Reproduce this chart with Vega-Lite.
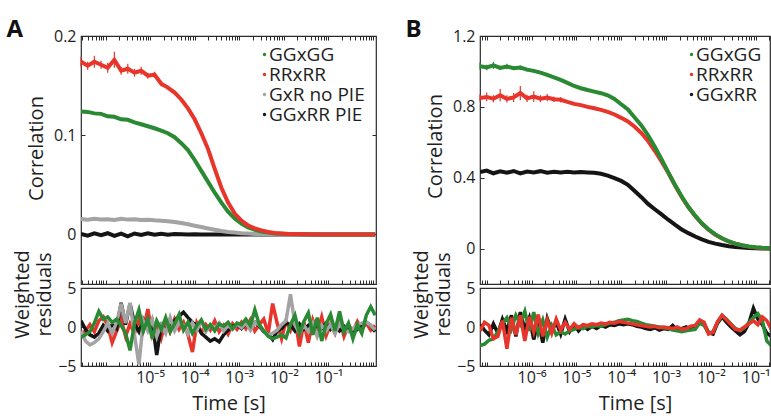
{
"$schema": "https://vega.github.io/schema/vega-lite/v6.json",
"background": "white",
"padding": {"left": 6, "top": 18, "right": 0, "bottom": 0},
"spacing": 27,
"resolve": {"scale": {"color": "independent"}, "legend": {"color": "independent"}},
"datasets": {
"corrA": [
{"s":"GGxRR PIE","t":2.82e-7,"v":0.0005},{"s":"GGxRR PIE","t":3.98e-7,"v":-0.0012},{"s":"GGxRR PIE","t":5.62e-7,"v":0.001},{"s":"GGxRR PIE","t":7.94e-7,"v":-0.0008},{"s":"GGxRR PIE","t":1.12e-6,"v":0.0012},{"s":"GGxRR PIE","t":1.58e-6,"v":-0.0015},{"s":"GGxRR PIE","t":2.24e-6,"v":0.0007},{"s":"GGxRR PIE","t":3.16e-6,"v":-0.002},{"s":"GGxRR PIE","t":4.47e-6,"v":0.0009},{"s":"GGxRR PIE","t":6.31e-6,"v":-0.0006},{"s":"GGxRR PIE","t":8.91e-6,"v":0.0011},{"s":"GGxRR PIE","t":1.26e-5,"v":-0.0004},{"s":"GGxRR PIE","t":1.78e-5,"v":0.0006},{"s":"GGxRR PIE","t":2.51e-5,"v":-0.0003},{"s":"GGxRR PIE","t":3.55e-5,"v":0.0004},{"s":"GGxRR PIE","t":5.01e-5,"v":0.0002},{"s":"GGxRR PIE","t":7.08e-5,"v":-0.0002},{"s":"GGxRR PIE","t":1e-4,"v":0.0001},{"s":"GGxRR PIE","t":1.41e-4,"v":0},{"s":"GGxRR PIE","t":5.62e-4,"v":0},{"s":"GGxRR PIE","t":2.24e-3,"v":0},{"s":"GGxRR PIE","t":8.91e-3,"v":0},{"s":"GGxRR PIE","t":5.01e-2,"v":0},{"s":"GGxRR PIE","t":0.282,"v":0},{"s":"GGxRR PIE","t":1.12,"v":0},
{"s":"GxR no PIE","t":2.82e-7,"v":0.0155},{"s":"GxR no PIE","t":3.98e-7,"v":0.0148},{"s":"GxR no PIE","t":5.62e-7,"v":0.0158},{"s":"GxR no PIE","t":7.94e-7,"v":0.015},{"s":"GxR no PIE","t":1.12e-6,"v":0.0153},{"s":"GxR no PIE","t":1.58e-6,"v":0.0146},{"s":"GxR no PIE","t":2.24e-6,"v":0.0157},{"s":"GxR no PIE","t":3.16e-6,"v":0.0149},{"s":"GxR no PIE","t":4.47e-6,"v":0.0152},{"s":"GxR no PIE","t":6.31e-6,"v":0.0146},{"s":"GxR no PIE","t":8.91e-6,"v":0.0148},{"s":"GxR no PIE","t":1.26e-5,"v":0.0142},{"s":"GxR no PIE","t":1.78e-5,"v":0.0138},{"s":"GxR no PIE","t":2.51e-5,"v":0.0132},{"s":"GxR no PIE","t":3.55e-5,"v":0.0125},{"s":"GxR no PIE","t":5.01e-5,"v":0.0115},{"s":"GxR no PIE","t":7.08e-5,"v":0.0102},{"s":"GxR no PIE","t":1e-4,"v":0.0088},{"s":"GxR no PIE","t":1.41e-4,"v":0.0074},{"s":"GxR no PIE","t":2e-4,"v":0.006},{"s":"GxR no PIE","t":2.82e-4,"v":0.0047},{"s":"GxR no PIE","t":3.98e-4,"v":0.0035},{"s":"GxR no PIE","t":5.62e-4,"v":0.0025},{"s":"GxR no PIE","t":7.94e-4,"v":0.0018},{"s":"GxR no PIE","t":1.12e-3,"v":0.0012},{"s":"GxR no PIE","t":1.58e-3,"v":0.0008},{"s":"GxR no PIE","t":2.24e-3,"v":0.0005},{"s":"GxR no PIE","t":3.16e-3,"v":0.0003},{"s":"GxR no PIE","t":4.47e-3,"v":0.0001},{"s":"GxR no PIE","t":6.31e-3,"v":0},{"s":"GxR no PIE","t":2.51e-2,"v":0},{"s":"GxR no PIE","t":0.141,"v":0},{"s":"GxR no PIE","t":1.12,"v":0},
{"s":"GGxGG","t":2.82e-7,"v":0.124},{"s":"GGxGG","t":3.98e-7,"v":0.1235},{"s":"GGxGG","t":5.62e-7,"v":0.122},{"s":"GGxGG","t":7.94e-7,"v":0.1215},{"s":"GGxGG","t":1.12e-6,"v":0.119},{"s":"GGxGG","t":1.58e-6,"v":0.1185},{"s":"GGxGG","t":2.24e-6,"v":0.116},{"s":"GGxGG","t":3.16e-6,"v":0.1155},{"s":"GGxGG","t":4.47e-6,"v":0.113},{"s":"GGxGG","t":6.31e-6,"v":0.111},{"s":"GGxGG","t":8.91e-6,"v":0.109},{"s":"GGxGG","t":1.26e-5,"v":0.107},{"s":"GGxGG","t":1.78e-5,"v":0.1045},{"s":"GGxGG","t":2.51e-5,"v":0.102},{"s":"GGxGG","t":3.55e-5,"v":0.098},{"s":"GGxGG","t":5.01e-5,"v":0.092},{"s":"GGxGG","t":7.08e-5,"v":0.085},{"s":"GGxGG","t":1e-4,"v":0.075},{"s":"GGxGG","t":1.41e-4,"v":0.064},{"s":"GGxGG","t":2e-4,"v":0.053},{"s":"GGxGG","t":2.82e-4,"v":0.042},{"s":"GGxGG","t":3.98e-4,"v":0.032},{"s":"GGxGG","t":5.62e-4,"v":0.023},{"s":"GGxGG","t":7.94e-4,"v":0.016},{"s":"GGxGG","t":1.12e-3,"v":0.011},{"s":"GGxGG","t":1.58e-3,"v":0.007},{"s":"GGxGG","t":2.24e-3,"v":0.0045},{"s":"GGxGG","t":3.16e-3,"v":0.003},{"s":"GGxGG","t":4.47e-3,"v":0.002},{"s":"GGxGG","t":6.31e-3,"v":0.001},{"s":"GGxGG","t":8.91e-3,"v":0.0006},{"s":"GGxGG","t":1.26e-2,"v":0.0003},{"s":"GGxGG","t":5.01e-2,"v":0},{"s":"GGxGG","t":0.282,"v":0},{"s":"GGxGG","t":1.12,"v":0},
{"s":"RRxRR","t":2.82e-7,"v":0.174,"e":0.005},{"s":"RRxRR","t":3.98e-7,"v":0.170,"e":0.004},{"s":"RRxRR","t":5.62e-7,"v":0.174,"e":0.006},{"s":"RRxRR","t":7.94e-7,"v":0.171,"e":0.004},{"s":"RRxRR","t":1.12e-6,"v":0.168,"e":0.005},{"s":"RRxRR","t":1.58e-6,"v":0.176,"e":0.008},{"s":"RRxRR","t":2.24e-6,"v":0.165,"e":0.004},{"s":"RRxRR","t":3.16e-6,"v":0.167,"e":0.005},{"s":"RRxRR","t":4.47e-6,"v":0.163,"e":0.004},{"s":"RRxRR","t":6.31e-6,"v":0.165,"e":0.004},{"s":"RRxRR","t":8.91e-6,"v":0.160,"e":0.003},{"s":"RRxRR","t":1.26e-5,"v":0.161,"e":0.003},{"s":"RRxRR","t":1.78e-5,"v":0.152,"e":0.003},{"s":"RRxRR","t":2.51e-5,"v":0.148,"e":0.002},{"s":"RRxRR","t":3.55e-5,"v":0.143,"e":0.002},{"s":"RRxRR","t":5.01e-5,"v":0.136},{"s":"RRxRR","t":7.08e-5,"v":0.127},{"s":"RRxRR","t":1e-4,"v":0.116},{"s":"RRxRR","t":1.41e-4,"v":0.102},{"s":"RRxRR","t":2e-4,"v":0.086},{"s":"RRxRR","t":2.82e-4,"v":0.066},{"s":"RRxRR","t":3.98e-4,"v":0.047},{"s":"RRxRR","t":5.62e-4,"v":0.032},{"s":"RRxRR","t":7.94e-4,"v":0.021},{"s":"RRxRR","t":1.12e-3,"v":0.014},{"s":"RRxRR","t":1.58e-3,"v":0.009},{"s":"RRxRR","t":2.24e-3,"v":0.006},{"s":"RRxRR","t":3.16e-3,"v":0.004},{"s":"RRxRR","t":4.47e-3,"v":0.0025},{"s":"RRxRR","t":6.31e-3,"v":0.0015},{"s":"RRxRR","t":8.91e-3,"v":0.001},{"s":"RRxRR","t":1.26e-2,"v":0.0005},{"s":"RRxRR","t":1.78e-2,"v":0.0003},{"s":"RRxRR","t":2.51e-2,"v":0.0002},{"s":"RRxRR","t":7.08e-2,"v":0},{"s":"RRxRR","t":0.282,"v":0},{"s":"RRxRR","t":1.12,"v":0}
],
"corrB": [
{"s":"GGxRR","t":7.08e-8,"v":0.432},{"s":"GGxRR","t":1e-7,"v":0.440},{"s":"GGxRR","t":1.41e-7,"v":0.425},{"s":"GGxRR","t":2e-7,"v":0.436},{"s":"GGxRR","t":2.82e-7,"v":0.428},{"s":"GGxRR","t":3.98e-7,"v":0.438},{"s":"GGxRR","t":5.62e-7,"v":0.424},{"s":"GGxRR","t":7.94e-7,"v":0.435},{"s":"GGxRR","t":1.12e-6,"v":0.430},{"s":"GGxRR","t":1.58e-6,"v":0.437},{"s":"GGxRR","t":2.24e-6,"v":0.428},{"s":"GGxRR","t":3.16e-6,"v":0.433},{"s":"GGxRR","t":4.47e-6,"v":0.430},{"s":"GGxRR","t":6.31e-6,"v":0.434},{"s":"GGxRR","t":8.91e-6,"v":0.430},{"s":"GGxRR","t":1.26e-5,"v":0.432},{"s":"GGxRR","t":1.78e-5,"v":0.430},{"s":"GGxRR","t":2.51e-5,"v":0.428},{"s":"GGxRR","t":3.55e-5,"v":0.422},{"s":"GGxRR","t":5.01e-5,"v":0.412},{"s":"GGxRR","t":7.08e-5,"v":0.398},{"s":"GGxRR","t":1e-4,"v":0.382},{"s":"GGxRR","t":1.41e-4,"v":0.360},{"s":"GGxRR","t":2e-4,"v":0.325},{"s":"GGxRR","t":2.82e-4,"v":0.290},{"s":"GGxRR","t":3.98e-4,"v":0.252},{"s":"GGxRR","t":5.62e-4,"v":0.222},{"s":"GGxRR","t":7.94e-4,"v":0.193},{"s":"GGxRR","t":1.12e-3,"v":0.163},{"s":"GGxRR","t":1.58e-3,"v":0.135},{"s":"GGxRR","t":2.24e-3,"v":0.108},{"s":"GGxRR","t":3.16e-3,"v":0.087},{"s":"GGxRR","t":4.47e-3,"v":0.068},{"s":"GGxRR","t":6.31e-3,"v":0.052},{"s":"GGxRR","t":8.91e-3,"v":0.038},{"s":"GGxRR","t":1.26e-2,"v":0.028},{"s":"GGxRR","t":1.78e-2,"v":0.020},{"s":"GGxRR","t":2.51e-2,"v":0.013},{"s":"GGxRR","t":3.55e-2,"v":0.009},{"s":"GGxRR","t":5.01e-2,"v":0.006},{"s":"GGxRR","t":7.08e-2,"v":0.003},{"s":"GGxRR","t":0.1,"v":0.002},{"s":"GGxRR","t":0.141,"v":0.001},{"s":"GGxRR","t":0.2,"v":0},{"s":"GGxRR","t":0.282,"v":0},
{"s":"RRxRR","t":7.08e-8,"v":0.850,"e":0.02},{"s":"RRxRR","t":1e-7,"v":0.856,"e":0.025},{"s":"RRxRR","t":1.41e-7,"v":0.846,"e":0.02},{"s":"RRxRR","t":2e-7,"v":0.866,"e":0.035},{"s":"RRxRR","t":2.82e-7,"v":0.845,"e":0.02},{"s":"RRxRR","t":3.98e-7,"v":0.853,"e":0.025},{"s":"RRxRR","t":5.62e-7,"v":0.878,"e":0.04},{"s":"RRxRR","t":7.94e-7,"v":0.848,"e":0.02},{"s":"RRxRR","t":1.12e-6,"v":0.858,"e":0.03},{"s":"RRxRR","t":1.58e-6,"v":0.846,"e":0.02},{"s":"RRxRR","t":2.24e-6,"v":0.852,"e":0.02},{"s":"RRxRR","t":3.16e-6,"v":0.843,"e":0.015},{"s":"RRxRR","t":4.47e-6,"v":0.840,"e":0.015},{"s":"RRxRR","t":6.31e-6,"v":0.828},{"s":"RRxRR","t":8.91e-6,"v":0.817},{"s":"RRxRR","t":1.26e-5,"v":0.810},{"s":"RRxRR","t":1.78e-5,"v":0.800},{"s":"RRxRR","t":2.51e-5,"v":0.792},{"s":"RRxRR","t":3.55e-5,"v":0.783},{"s":"RRxRR","t":5.01e-5,"v":0.772},{"s":"RRxRR","t":7.08e-5,"v":0.757},{"s":"RRxRR","t":1e-4,"v":0.738},{"s":"RRxRR","t":1.41e-4,"v":0.718},{"s":"RRxRR","t":2e-4,"v":0.688},{"s":"RRxRR","t":2.82e-4,"v":0.652},{"s":"RRxRR","t":3.98e-4,"v":0.607},{"s":"RRxRR","t":5.62e-4,"v":0.552},{"s":"RRxRR","t":7.94e-4,"v":0.492},{"s":"RRxRR","t":1.12e-3,"v":0.428},{"s":"RRxRR","t":1.58e-3,"v":0.357},{"s":"RRxRR","t":2.24e-3,"v":0.291},{"s":"RRxRR","t":3.16e-3,"v":0.233},{"s":"RRxRR","t":4.47e-3,"v":0.184},{"s":"RRxRR","t":6.31e-3,"v":0.141},{"s":"RRxRR","t":8.91e-3,"v":0.106},{"s":"RRxRR","t":1.26e-2,"v":0.078},{"s":"RRxRR","t":1.78e-2,"v":0.057},{"s":"RRxRR","t":2.51e-2,"v":0.040},{"s":"RRxRR","t":3.55e-2,"v":0.027},{"s":"RRxRR","t":5.01e-2,"v":0.018},{"s":"RRxRR","t":7.08e-2,"v":0.011},{"s":"RRxRR","t":0.1,"v":0.006},{"s":"RRxRR","t":0.141,"v":0.003},{"s":"RRxRR","t":0.2,"v":0.0015},{"s":"RRxRR","t":0.282,"v":0.0005},
{"s":"GGxGG","t":7.08e-8,"v":1.030,"e":0.02},{"s":"GGxGG","t":1e-7,"v":1.022,"e":0.015},{"s":"GGxGG","t":1.41e-7,"v":1.034,"e":0.02},{"s":"GGxGG","t":2e-7,"v":1.020,"e":0.012},{"s":"GGxGG","t":2.82e-7,"v":1.028,"e":0.015},{"s":"GGxGG","t":3.98e-7,"v":1.018,"e":0.01},{"s":"GGxGG","t":5.62e-7,"v":1.022,"e":0.012},{"s":"GGxGG","t":7.94e-7,"v":1.010,"e":0.01},{"s":"GGxGG","t":1.12e-6,"v":1.003,"e":0.01},{"s":"GGxGG","t":1.58e-6,"v":0.993,"e":0.008},{"s":"GGxGG","t":2.24e-6,"v":0.980,"e":0.008},{"s":"GGxGG","t":3.16e-6,"v":0.967},{"s":"GGxGG","t":4.47e-6,"v":0.952},{"s":"GGxGG","t":6.31e-6,"v":0.935},{"s":"GGxGG","t":8.91e-6,"v":0.918},{"s":"GGxGG","t":1.26e-5,"v":0.905},{"s":"GGxGG","t":1.78e-5,"v":0.895},{"s":"GGxGG","t":2.51e-5,"v":0.886},{"s":"GGxGG","t":3.55e-5,"v":0.877},{"s":"GGxGG","t":5.01e-5,"v":0.865},{"s":"GGxGG","t":7.08e-5,"v":0.845},{"s":"GGxGG","t":1e-4,"v":0.815},{"s":"GGxGG","t":1.41e-4,"v":0.785},{"s":"GGxGG","t":2e-4,"v":0.740},{"s":"GGxGG","t":2.82e-4,"v":0.695},{"s":"GGxGG","t":3.98e-4,"v":0.640},{"s":"GGxGG","t":5.62e-4,"v":0.575},{"s":"GGxGG","t":7.94e-4,"v":0.505},{"s":"GGxGG","t":1.12e-3,"v":0.432},{"s":"GGxGG","t":1.58e-3,"v":0.360},{"s":"GGxGG","t":2.24e-3,"v":0.294},{"s":"GGxGG","t":3.16e-3,"v":0.236},{"s":"GGxGG","t":4.47e-3,"v":0.186},{"s":"GGxGG","t":6.31e-3,"v":0.143},{"s":"GGxGG","t":8.91e-3,"v":0.108},{"s":"GGxGG","t":1.26e-2,"v":0.080},{"s":"GGxGG","t":1.78e-2,"v":0.058},{"s":"GGxGG","t":2.51e-2,"v":0.041},{"s":"GGxGG","t":3.55e-2,"v":0.028},{"s":"GGxGG","t":5.01e-2,"v":0.019},{"s":"GGxGG","t":7.08e-2,"v":0.012},{"s":"GGxGG","t":0.1,"v":0.007},{"s":"GGxGG","t":0.141,"v":0.004},{"s":"GGxGG","t":0.2,"v":0.002},{"s":"GGxGG","t":0.282,"v":0.001}
],
"resA": [
{"s":"R","t":2.82e-7,"v":-1.0},{"s":"R","t":3.55e-7,"v":-0.5},{"s":"R","t":4.47e-7,"v":0.3},{"s":"R","t":5.62e-7,"v":-0.6},{"s":"R","t":7.08e-7,"v":0.8},{"s":"R","t":8.91e-7,"v":1.3},{"s":"R","t":1.12e-6,"v":0.2},{"s":"R","t":1.41e-6,"v":-2.0},{"s":"R","t":1.78e-6,"v":-0.5},{"s":"R","t":2.24e-6,"v":1.0},
{"s":"R","t":2.82e-6,"v":-1.2},{"s":"R","t":3.55e-6,"v":0.4},{"s":"R","t":4.47e-6,"v":-0.8},{"s":"R","t":5.62e-6,"v":0.9},{"s":"R","t":7.08e-6,"v":-0.3},{"s":"R","t":8.91e-6,"v":2.3},{"s":"R","t":1.12e-5,"v":-1.0},{"s":"R","t":1.41e-5,"v":0.5},{"s":"R","t":1.78e-5,"v":-1.4},{"s":"R","t":2.24e-5,"v":0.8},
{"s":"R","t":2.82e-5,"v":-0.6},{"s":"R","t":3.55e-5,"v":1.0},{"s":"R","t":4.47e-5,"v":-0.3},{"s":"R","t":5.62e-5,"v":0.6},{"s":"R","t":7.08e-5,"v":-1.0},{"s":"R","t":8.91e-5,"v":-3.2},{"s":"R","t":1.12e-4,"v":0.5},{"s":"R","t":1.41e-4,"v":-0.7},{"s":"R","t":1.78e-4,"v":0.3},{"s":"R","t":2.24e-4,"v":-0.4},
{"s":"R","t":2.82e-4,"v":0.8},{"s":"R","t":3.55e-4,"v":-0.6},{"s":"R","t":4.47e-4,"v":0.2},{"s":"R","t":5.62e-4,"v":-0.9},{"s":"R","t":7.08e-4,"v":0.4},{"s":"R","t":8.91e-4,"v":-0.3},{"s":"R","t":1.12e-3,"v":0.6},{"s":"R","t":1.41e-3,"v":-0.2},{"s":"R","t":1.78e-3,"v":0.9},{"s":"R","t":2.24e-3,"v":-0.5},
{"s":"R","t":2.82e-3,"v":0.3},{"s":"R","t":3.55e-3,"v":1.0},{"s":"R","t":4.47e-3,"v":-0.8},{"s":"R","t":5.62e-3,"v":3.0},{"s":"R","t":7.08e-3,"v":0.5},{"s":"R","t":8.91e-3,"v":-1.5},{"s":"R","t":1.12e-2,"v":0.8},{"s":"R","t":1.41e-2,"v":-0.4},{"s":"R","t":1.78e-2,"v":1.2},{"s":"R","t":2.24e-2,"v":-2.5},
{"s":"R","t":2.82e-2,"v":0.6},{"s":"R","t":3.55e-2,"v":-2.0},{"s":"R","t":4.47e-2,"v":0.9},{"s":"R","t":5.62e-2,"v":-0.6},{"s":"R","t":7.08e-2,"v":1.3},{"s":"R","t":8.91e-2,"v":-1.1},{"s":"R","t":0.112,"v":0.4},{"s":"R","t":0.141,"v":-0.8},{"s":"R","t":0.178,"v":1.0},{"s":"R","t":0.224,"v":-1.2},
{"s":"R","t":0.282,"v":0.3},{"s":"R","t":0.355,"v":-0.6},{"s":"R","t":0.447,"v":0.7},{"s":"R","t":0.562,"v":-0.3},{"s":"R","t":0.708,"v":0.5},{"s":"R","t":0.891,"v":-0.4},{"s":"R","t":1.12,"v":0.2},
{"s":"K","t":2.82e-7,"v":0.8},{"s":"K","t":3.55e-7,"v":-0.3},{"s":"K","t":4.47e-7,"v":-1.0},{"s":"K","t":5.62e-7,"v":-1.3},{"s":"K","t":7.08e-7,"v":-0.8},{"s":"K","t":8.91e-7,"v":0.2},{"s":"K","t":1.12e-6,"v":-0.5},{"s":"K","t":1.41e-6,"v":0.3},{"s":"K","t":1.78e-6,"v":-0.2},{"s":"K","t":2.24e-6,"v":3.1},
{"s":"K","t":2.82e-6,"v":0.3},{"s":"K","t":3.55e-6,"v":3.0},{"s":"K","t":4.47e-6,"v":0.4},{"s":"K","t":5.62e-6,"v":-0.6},{"s":"K","t":7.08e-6,"v":0.9},{"s":"K","t":8.91e-6,"v":-0.3},{"s":"K","t":1.12e-5,"v":0.6},{"s":"K","t":1.41e-5,"v":-3.6},{"s":"K","t":1.78e-5,"v":0.2},{"s":"K","t":2.24e-5,"v":-0.4},
{"s":"K","t":2.82e-5,"v":0.5},{"s":"K","t":3.55e-5,"v":0.8},{"s":"K","t":4.47e-5,"v":1.4},{"s":"K","t":5.62e-5,"v":1.9},{"s":"K","t":7.08e-5,"v":1.2},{"s":"K","t":8.91e-5,"v":0.6},{"s":"K","t":1.12e-4,"v":0.2},{"s":"K","t":1.41e-4,"v":-0.8},{"s":"K","t":1.78e-4,"v":-1.3},{"s":"K","t":2.24e-4,"v":-1.8},
{"s":"K","t":2.82e-4,"v":-1.5},{"s":"K","t":3.55e-4,"v":-1.9},{"s":"K","t":4.47e-4,"v":-1.0},{"s":"K","t":5.62e-4,"v":-0.4},{"s":"K","t":7.08e-4,"v":0.1},{"s":"K","t":8.91e-4,"v":0.3},{"s":"K","t":1.12e-3,"v":-0.2},{"s":"K","t":1.41e-3,"v":0.4},{"s":"K","t":1.78e-3,"v":0.2},{"s":"K","t":2.24e-3,"v":0.6},
{"s":"K","t":2.82e-3,"v":0.1},{"s":"K","t":3.55e-3,"v":-0.6},{"s":"K","t":4.47e-3,"v":-0.9},{"s":"K","t":5.62e-3,"v":-1.6},{"s":"K","t":7.08e-3,"v":-0.5},{"s":"K","t":8.91e-3,"v":-0.2},{"s":"K","t":1.12e-2,"v":0.5},{"s":"K","t":1.41e-2,"v":0.3},{"s":"K","t":1.78e-2,"v":-0.5},{"s":"K","t":2.24e-2,"v":0.4},
{"s":"K","t":2.82e-2,"v":-0.3},{"s":"K","t":3.55e-2,"v":0.2},{"s":"K","t":4.47e-2,"v":-0.4},{"s":"K","t":5.62e-2,"v":0.3},{"s":"K","t":7.08e-2,"v":-0.2},{"s":"K","t":8.91e-2,"v":0.5},{"s":"K","t":0.112,"v":-0.3},{"s":"K","t":0.141,"v":0.2},{"s":"K","t":0.178,"v":-0.5},{"s":"K","t":0.224,"v":0.1},
{"s":"K","t":0.282,"v":-0.4},{"s":"K","t":0.355,"v":-0.8},{"s":"K","t":0.447,"v":-0.3},{"s":"K","t":0.562,"v":0.4},{"s":"K","t":0.708,"v":0.6},{"s":"K","t":0.891,"v":0.2},{"s":"K","t":1.12,"v":-0.6},
{"s":"X","t":2.82e-7,"v":-0.5},{"s":"X","t":3.55e-7,"v":-1.8},{"s":"X","t":4.47e-7,"v":-2.3},{"s":"X","t":5.62e-7,"v":-2.0},{"s":"X","t":7.08e-7,"v":-1.5},{"s":"X","t":8.91e-7,"v":-0.6},{"s":"X","t":1.12e-6,"v":0.5},{"s":"X","t":1.41e-6,"v":-0.8},{"s":"X","t":1.78e-6,"v":0.6},{"s":"X","t":2.24e-6,"v":3.0},
{"s":"X","t":2.82e-6,"v":0.5},{"s":"X","t":3.55e-6,"v":3.1},{"s":"X","t":4.47e-6,"v":-1.0},{"s":"X","t":5.62e-6,"v":-4.8},{"s":"X","t":7.08e-6,"v":0.8},{"s":"X","t":8.91e-6,"v":-0.5},{"s":"X","t":1.12e-5,"v":1.0},{"s":"X","t":1.41e-5,"v":-1.2},{"s":"X","t":1.78e-5,"v":0.3},{"s":"X","t":2.24e-5,"v":-0.8},
{"s":"X","t":2.82e-5,"v":1.2},{"s":"X","t":3.55e-5,"v":-0.5},{"s":"X","t":4.47e-5,"v":0.6},{"s":"X","t":5.62e-5,"v":0.2},{"s":"X","t":7.08e-5,"v":-0.9},{"s":"X","t":8.91e-5,"v":0.5},{"s":"X","t":1.12e-4,"v":-0.4},{"s":"X","t":1.41e-4,"v":0.8},{"s":"X","t":1.78e-4,"v":-0.6},{"s":"X","t":2.24e-4,"v":0.3},
{"s":"X","t":2.82e-4,"v":-0.2},{"s":"X","t":3.55e-4,"v":0.5},{"s":"X","t":4.47e-4,"v":-0.5},{"s":"X","t":5.62e-4,"v":0.2},{"s":"X","t":7.08e-4,"v":-0.3},{"s":"X","t":8.91e-4,"v":0.4},{"s":"X","t":1.12e-3,"v":-0.1},{"s":"X","t":1.41e-3,"v":0.5},{"s":"X","t":1.78e-3,"v":-0.4},{"s":"X","t":2.24e-3,"v":0.6},
{"s":"X","t":2.82e-3,"v":0.2},{"s":"X","t":3.55e-3,"v":-0.5},{"s":"X","t":4.47e-3,"v":-1.0},{"s":"X","t":5.62e-3,"v":-0.8},{"s":"X","t":7.08e-3,"v":-0.4},{"s":"X","t":8.91e-3,"v":0.3},{"s":"X","t":1.12e-2,"v":0.8},{"s":"X","t":1.41e-2,"v":4.2},{"s":"X","t":1.78e-2,"v":0.3},{"s":"X","t":2.24e-2,"v":-0.8},
{"s":"X","t":2.82e-2,"v":0.2},{"s":"X","t":3.55e-2,"v":-0.6},{"s":"X","t":4.47e-2,"v":0.5},{"s":"X","t":5.62e-2,"v":-1.2},{"s":"X","t":7.08e-2,"v":0.2},{"s":"X","t":8.91e-2,"v":-0.5},{"s":"X","t":0.112,"v":0.3},{"s":"X","t":0.141,"v":-0.8},{"s":"X","t":0.178,"v":0.4},{"s":"X","t":0.224,"v":-0.3},
{"s":"X","t":0.282,"v":-0.6},{"s":"X","t":0.355,"v":-0.2},{"s":"X","t":0.447,"v":0.3},{"s":"X","t":0.562,"v":0.5},{"s":"X","t":0.708,"v":0.6},{"s":"X","t":0.891,"v":0.2},{"s":"X","t":1.12,"v":-0.4},
{"s":"G","t":2.82e-7,"v":-1.3},{"s":"G","t":3.55e-7,"v":-1.0},{"s":"G","t":4.47e-7,"v":-0.6},{"s":"G","t":5.62e-7,"v":0.5},{"s":"G","t":7.08e-7,"v":2.0},{"s":"G","t":8.91e-7,"v":1.0},{"s":"G","t":1.12e-6,"v":1.3},{"s":"G","t":1.41e-6,"v":0.6},{"s":"G","t":1.78e-6,"v":1.0},{"s":"G","t":2.24e-6,"v":0.2},
{"s":"G","t":2.82e-6,"v":-0.8},{"s":"G","t":3.55e-6,"v":-3.0},{"s":"G","t":4.47e-6,"v":0.5},{"s":"G","t":5.62e-6,"v":2.2},{"s":"G","t":7.08e-6,"v":-0.5},{"s":"G","t":8.91e-6,"v":1.0},{"s":"G","t":1.12e-5,"v":-1.5},{"s":"G","t":1.41e-5,"v":0.8},{"s":"G","t":1.78e-5,"v":-0.3},{"s":"G","t":2.24e-5,"v":1.2},
{"s":"G","t":2.82e-5,"v":-0.6},{"s":"G","t":3.55e-5,"v":0.4},{"s":"G","t":4.47e-5,"v":1.6},{"s":"G","t":5.62e-5,"v":-0.4},{"s":"G","t":7.08e-5,"v":0.6},{"s":"G","t":8.91e-5,"v":-0.8},{"s":"G","t":1.12e-4,"v":0.2},{"s":"G","t":1.41e-4,"v":0.9},{"s":"G","t":1.78e-4,"v":-0.3},{"s":"G","t":2.24e-4,"v":0.3},
{"s":"G","t":2.82e-4,"v":-0.5},{"s":"G","t":3.55e-4,"v":0.4},{"s":"G","t":4.47e-4,"v":0.1},{"s":"G","t":5.62e-4,"v":0.6},{"s":"G","t":7.08e-4,"v":-0.2},{"s":"G","t":8.91e-4,"v":0.5},{"s":"G","t":1.12e-3,"v":0.3},{"s":"G","t":1.41e-3,"v":1.0},{"s":"G","t":1.78e-3,"v":0.2},{"s":"G","t":2.24e-3,"v":2.2},
{"s":"G","t":2.82e-3,"v":0.3},{"s":"G","t":3.55e-3,"v":-0.5},{"s":"G","t":4.47e-3,"v":-1.2},{"s":"G","t":5.62e-3,"v":-1.5},{"s":"G","t":7.08e-3,"v":-1.3},{"s":"G","t":8.91e-3,"v":-1.0},{"s":"G","t":1.12e-2,"v":-1.4},{"s":"G","t":1.41e-2,"v":0.3},{"s":"G","t":1.78e-2,"v":1.5},{"s":"G","t":2.24e-2,"v":-0.8},
{"s":"G","t":2.82e-2,"v":0.7},{"s":"G","t":3.55e-2,"v":1.8},{"s":"G","t":4.47e-2,"v":-1.0},{"s":"G","t":5.62e-2,"v":1.2},{"s":"G","t":7.08e-2,"v":-1.8},{"s":"G","t":8.91e-2,"v":0.4},{"s":"G","t":0.112,"v":1.6},{"s":"G","t":0.141,"v":-0.5},{"s":"G","t":0.178,"v":2.0},{"s":"G","t":0.224,"v":-0.6},
{"s":"G","t":0.282,"v":0.5},{"s":"G","t":0.355,"v":-1.5},{"s":"G","t":0.447,"v":0.3},{"s":"G","t":0.562,"v":-0.8},{"s":"G","t":0.708,"v":1.5},{"s":"G","t":0.891,"v":2.6},{"s":"G","t":1.12,"v":1.5}
],
"resB": [
{"s":"K","t":7.08e-8,"v":0.3},{"s":"K","t":8.91e-8,"v":-0.4},{"s":"K","t":1.12e-7,"v":-1.0},{"s":"K","t":1.41e-7,"v":0.4},{"s":"K","t":1.78e-7,"v":-0.8},{"s":"K","t":2.24e-7,"v":1.0},{"s":"K","t":2.82e-7,"v":-0.5},{"s":"K","t":3.55e-7,"v":1.5},{"s":"K","t":4.47e-7,"v":-1.2},{"s":"K","t":5.62e-7,"v":1.9},
{"s":"K","t":7.08e-7,"v":-0.3},{"s":"K","t":8.91e-7,"v":1.2},{"s":"K","t":1.12e-6,"v":-1.6},{"s":"K","t":1.41e-6,"v":0.8},{"s":"K","t":1.78e-6,"v":-2.0},{"s":"K","t":2.24e-6,"v":1.1},{"s":"K","t":2.82e-6,"v":-0.5},{"s":"K","t":3.55e-6,"v":0.6},{"s":"K","t":4.47e-6,"v":-0.9},{"s":"K","t":5.62e-6,"v":1.0},
{"s":"K","t":7.08e-6,"v":-0.6},{"s":"K","t":8.91e-6,"v":0.3},{"s":"K","t":1.12e-5,"v":-0.5},{"s":"K","t":1.41e-5,"v":0.2},{"s":"K","t":1.78e-5,"v":-0.3},{"s":"K","t":2.24e-5,"v":0.1},{"s":"K","t":2.82e-5,"v":-0.2},{"s":"K","t":3.55e-5,"v":0.2},{"s":"K","t":4.47e-5,"v":0.0},{"s":"K","t":5.62e-5,"v":0.3},
{"s":"K","t":7.08e-5,"v":0.2},{"s":"K","t":8.91e-5,"v":0.4},{"s":"K","t":1.12e-4,"v":0.3},{"s":"K","t":1.41e-4,"v":0.4},{"s":"K","t":1.78e-4,"v":0.3},{"s":"K","t":2.24e-4,"v":0.1},{"s":"K","t":2.82e-4,"v":0.0},{"s":"K","t":3.55e-4,"v":-0.2},{"s":"K","t":4.47e-4,"v":-0.3},{"s":"K","t":5.62e-4,"v":-0.1},
{"s":"K","t":7.08e-4,"v":-0.4},{"s":"K","t":8.91e-4,"v":-0.2},{"s":"K","t":1.12e-3,"v":-0.3},{"s":"K","t":1.41e-3,"v":0.2},{"s":"K","t":1.78e-3,"v":-0.4},{"s":"K","t":2.24e-3,"v":-0.2},{"s":"K","t":2.82e-3,"v":0.0},{"s":"K","t":3.55e-3,"v":-0.3},{"s":"K","t":4.47e-3,"v":0.1},{"s":"K","t":5.62e-3,"v":0.7},
{"s":"K","t":7.08e-3,"v":0.4},{"s":"K","t":8.91e-3,"v":-0.7},{"s":"K","t":1.12e-2,"v":-0.9},{"s":"K","t":1.41e-2,"v":0.5},{"s":"K","t":1.78e-2,"v":1.3},{"s":"K","t":2.24e-2,"v":0.6},{"s":"K","t":2.82e-2,"v":0.0},{"s":"K","t":3.55e-2,"v":-0.5},{"s":"K","t":4.47e-2,"v":-1.0},{"s":"K","t":5.62e-2,"v":-0.6},
{"s":"K","t":7.08e-2,"v":0.5},{"s":"K","t":8.91e-2,"v":2.4},{"s":"K","t":0.112,"v":1.0},{"s":"K","t":0.141,"v":0.3},{"s":"K","t":0.178,"v":-0.8},{"s":"K","t":0.224,"v":-1.2},
{"s":"G","t":7.08e-8,"v":-2.4},{"s":"G","t":8.91e-8,"v":-2.2},{"s":"G","t":1.12e-7,"v":-1.7},{"s":"G","t":1.41e-7,"v":-1.5},{"s":"G","t":1.78e-7,"v":-0.6},{"s":"G","t":2.24e-7,"v":0.5},{"s":"G","t":2.82e-7,"v":1.2},{"s":"G","t":3.55e-7,"v":-0.3},{"s":"G","t":4.47e-7,"v":1.5},{"s":"G","t":5.62e-7,"v":0.4},
{"s":"G","t":7.08e-7,"v":2.0},{"s":"G","t":8.91e-7,"v":-0.5},{"s":"G","t":1.12e-6,"v":1.9},{"s":"G","t":1.41e-6,"v":-0.8},{"s":"G","t":1.78e-6,"v":0.9},{"s":"G","t":2.24e-6,"v":-1.3},{"s":"G","t":2.82e-6,"v":0.2},{"s":"G","t":3.55e-6,"v":-1.0},{"s":"G","t":4.47e-6,"v":-0.6},{"s":"G","t":5.62e-6,"v":-0.9},
{"s":"G","t":7.08e-6,"v":-0.5},{"s":"G","t":8.91e-6,"v":-0.3},{"s":"G","t":1.12e-5,"v":0.0},{"s":"G","t":1.41e-5,"v":-0.2},{"s":"G","t":1.78e-5,"v":0.1},{"s":"G","t":2.24e-5,"v":0.0},{"s":"G","t":2.82e-5,"v":0.2},{"s":"G","t":3.55e-5,"v":0.1},{"s":"G","t":4.47e-5,"v":0.3},{"s":"G","t":5.62e-5,"v":0.5},
{"s":"G","t":7.08e-5,"v":0.6},{"s":"G","t":8.91e-5,"v":0.8},{"s":"G","t":1.12e-4,"v":0.9},{"s":"G","t":1.41e-4,"v":1.0},{"s":"G","t":1.78e-4,"v":0.8},{"s":"G","t":2.24e-4,"v":0.7},{"s":"G","t":2.82e-4,"v":0.5},{"s":"G","t":3.55e-4,"v":0.3},{"s":"G","t":4.47e-4,"v":0.2},{"s":"G","t":5.62e-4,"v":0.1},
{"s":"G","t":7.08e-4,"v":0.0},{"s":"G","t":8.91e-4,"v":-0.1},{"s":"G","t":1.12e-3,"v":-0.2},{"s":"G","t":1.41e-3,"v":-0.4},{"s":"G","t":1.78e-3,"v":-0.5},{"s":"G","t":2.24e-3,"v":-0.6},{"s":"G","t":2.82e-3,"v":-0.5},{"s":"G","t":3.55e-3,"v":-0.4},{"s":"G","t":4.47e-3,"v":-0.3},{"s":"G","t":5.62e-3,"v":0.5},
{"s":"G","t":7.08e-3,"v":0.2},{"s":"G","t":8.91e-3,"v":-0.8},{"s":"G","t":1.12e-2,"v":-0.6},{"s":"G","t":1.41e-2,"v":0.6},{"s":"G","t":1.78e-2,"v":1.5},{"s":"G","t":2.24e-2,"v":1.0},{"s":"G","t":2.82e-2,"v":0.4},{"s":"G","t":3.55e-2,"v":-0.2},{"s":"G","t":4.47e-2,"v":-0.4},{"s":"G","t":5.62e-2,"v":-0.1},
{"s":"G","t":7.08e-2,"v":0.6},{"s":"G","t":8.91e-2,"v":1.2},{"s":"G","t":0.112,"v":1.7},{"s":"G","t":0.141,"v":0.8},{"s":"G","t":0.178,"v":-1.8},{"s":"G","t":0.224,"v":-2.4},
{"s":"R","t":7.08e-8,"v":-0.5},{"s":"R","t":8.91e-8,"v":0.6},{"s":"R","t":1.12e-7,"v":0.2},{"s":"R","t":1.41e-7,"v":-1.5},{"s":"R","t":1.78e-7,"v":-1.2},{"s":"R","t":2.24e-7,"v":0.8},{"s":"R","t":2.82e-7,"v":-2.8},{"s":"R","t":3.55e-7,"v":1.2},{"s":"R","t":4.47e-7,"v":-1.0},{"s":"R","t":5.62e-7,"v":1.5},
{"s":"R","t":7.08e-7,"v":-1.8},{"s":"R","t":8.91e-7,"v":1.3},{"s":"R","t":1.12e-6,"v":-0.6},{"s":"R","t":1.41e-6,"v":1.6},{"s":"R","t":1.78e-6,"v":-1.2},{"s":"R","t":2.24e-6,"v":0.9},{"s":"R","t":2.82e-6,"v":-0.8},{"s":"R","t":3.55e-6,"v":1.0},{"s":"R","t":4.47e-6,"v":-0.4},{"s":"R","t":5.62e-6,"v":0.6},
{"s":"R","t":7.08e-6,"v":-0.3},{"s":"R","t":8.91e-6,"v":0.4},{"s":"R","t":1.12e-5,"v":-0.1},{"s":"R","t":1.41e-5,"v":0.3},{"s":"R","t":1.78e-5,"v":0.2},{"s":"R","t":2.24e-5,"v":0.4},{"s":"R","t":2.82e-5,"v":0.3},{"s":"R","t":3.55e-5,"v":0.5},{"s":"R","t":4.47e-5,"v":0.4},{"s":"R","t":5.62e-5,"v":0.6},
{"s":"R","t":7.08e-5,"v":0.5},{"s":"R","t":8.91e-5,"v":0.7},{"s":"R","t":1.12e-4,"v":0.6},{"s":"R","t":1.41e-4,"v":0.5},{"s":"R","t":1.78e-4,"v":0.4},{"s":"R","t":2.24e-4,"v":0.3},{"s":"R","t":2.82e-4,"v":0.2},{"s":"R","t":3.55e-4,"v":0.1},{"s":"R","t":4.47e-4,"v":0.0},{"s":"R","t":5.62e-4,"v":0.1},
{"s":"R","t":7.08e-4,"v":-0.1},{"s":"R","t":8.91e-4,"v":0.0},{"s":"R","t":1.12e-3,"v":-0.1},{"s":"R","t":1.41e-3,"v":-0.2},{"s":"R","t":1.78e-3,"v":0.0},{"s":"R","t":2.24e-3,"v":-0.3},{"s":"R","t":2.82e-3,"v":-0.2},{"s":"R","t":3.55e-3,"v":0.1},{"s":"R","t":4.47e-3,"v":0.2},{"s":"R","t":5.62e-3,"v":0.9},
{"s":"R","t":7.08e-3,"v":0.6},{"s":"R","t":8.91e-3,"v":-0.9},{"s":"R","t":1.12e-2,"v":-0.7},{"s":"R","t":1.41e-2,"v":0.7},{"s":"R","t":1.78e-2,"v":1.5},{"s":"R","t":2.24e-2,"v":0.9},{"s":"R","t":2.82e-2,"v":0.3},{"s":"R","t":3.55e-2,"v":-0.3},{"s":"R","t":4.47e-2,"v":-0.4},{"s":"R","t":5.62e-2,"v":0.0},
{"s":"R","t":7.08e-2,"v":0.4},{"s":"R","t":8.91e-2,"v":0.8},{"s":"R","t":0.112,"v":0.3},{"s":"R","t":0.141,"v":1.3},{"s":"R","t":0.178,"v":0.8},{"s":"R","t":0.224,"v":-0.3}
]
},
"hconcat": [
{
"title": {"text": "A", "anchor": "start", "offset": -15, "dx": -5},
"spacing": 4,
"bounds": "flush",
"resolve": {"scale": {"color": "independent"}},
"vconcat": [
{
"width": 295, "height": 248,
"data": {"name": "corrA"},
"resolve": {"axis": {"x": "independent", "y": "independent"}},
"layer": [
{
"mark": {"type": "line", "strokeWidth": 4, "clip": true},
"encoding": {
"x": {"field": "t", "type": "quantitative", "scale": {"type": "log", "domain": [2.82e-7, 1.17], "nice": false},
"axis": {"values": [3e-7,4e-7,5e-7,6e-7,7e-7,8e-7,9e-7,1e-6,2e-6,3e-6,4e-6,5e-6,6e-6,7e-6,8e-6,9e-6,1e-5,2e-5,3e-5,4e-5,5e-5,6e-5,7e-5,8e-5,9e-5,1e-4,2e-4,3e-4,4e-4,5e-4,6e-4,7e-4,8e-4,9e-4,0.001,0.002,0.003,0.004,0.005,0.006,0.007,0.008,0.009,0.01,0.02,0.03,0.04,0.05,0.06,0.07,0.08,0.09,0.1,0.2,0.3,0.4,0.5,0.6,0.7,0.8,0.9,1], "labels": false, "title": null}},
"y": {"field": "v", "type": "quantitative", "scale": {"domain": [-0.05, 0.2], "nice": false, "zero": false},
"axis": {"values": [0, 0.1, 0.2], "labelExpr": "datum.value == 0 ? '0' : format(datum.value, '.1f')", "title": "Correlation", "titleX": -35, "titleY": 112}},
"color": {"field": "s", "type": "nominal",
"scale": {"domain": ["GGxGG", "RRxRR", "GxR no PIE", "GGxRR PIE"], "range": ["#2a8a34", "#e8352b", "#a3a3a3", "#151515"]},
"legend": {"orient": "none", "legendX": 174, "legendY": 9, "title": null, "symbolType": "circle", "symbolSize": 12, "symbolStrokeWidth": 0, "labelFontSize": 19, "labelOffset": -5, "rowPadding": 0, "padding": 0,
"encode": {"symbols": {"update": {"fill": {"signal": "datum.value == 'GGxGG' ? '#2a8a34' : datum.value == 'RRxRR' ? '#e8352b' : datum.value == 'GxR no PIE' ? '#a3a3a3' : '#151515'"}, "strokeWidth": {"value": 0}}}}}}
}
},
{
"transform": [{"filter": "datum.s == 'RRxRR' && isValid(datum.e)"}],
"mark": {"type": "errorbar", "ticks": false, "thickness": 1.2, "color": "#e8352b"},
"encoding": {
"x": {"field": "t", "type": "quantitative",
"axis": {"orient": "top", "values": [3e-7,4e-7,5e-7,6e-7,7e-7,8e-7,9e-7,1e-6,2e-6,3e-6,4e-6,5e-6,6e-6,7e-6,8e-6,9e-6,1e-5,2e-5,3e-5,4e-5,5e-5,6e-5,7e-5,8e-5,9e-5,1e-4,2e-4,3e-4,4e-4,5e-4,6e-4,7e-4,8e-4,9e-4,0.001,0.002,0.003,0.004,0.005,0.006,0.007,0.008,0.009,0.01,0.02,0.03,0.04,0.05,0.06,0.07,0.08,0.09,0.1,0.2,0.3,0.4,0.5,0.6,0.7,0.8,0.9,1], "labels": false, "title": null}},
"y": {"field": "v", "type": "quantitative", "axis": {"orient": "right", "values": [0, 0.1, 0.2], "labels": false, "title": null}},
"yError": {"field": "e"}
}
}
]
},
{
"width": 295, "height": 78,
"data": {"name": "resA"},
"mark": {"type": "line", "strokeWidth": 3.5, "clip": true},
"encoding": {
"x": {"field": "t", "type": "quantitative", "scale": {"type": "log", "domain": [2.82e-7, 1.17], "nice": false},
"axis": {"values": [3e-7,4e-7,5e-7,6e-7,7e-7,8e-7,9e-7,1e-6,2e-6,3e-6,4e-6,5e-6,6e-6,7e-6,8e-6,9e-6,1e-5,2e-5,3e-5,4e-5,5e-5,6e-5,7e-5,8e-5,9e-5,1e-4,2e-4,3e-4,4e-4,5e-4,6e-4,7e-4,8e-4,9e-4,0.001,0.002,0.003,0.004,0.005,0.006,0.007,0.008,0.009,0.01,0.02,0.03,0.04,0.05,0.06,0.07,0.08,0.09,0.1,0.2,0.3,0.4,0.5,0.6,0.7,0.8,0.9,1],
"labelExpr": "datum.value == 1e-5 ? '10⁻⁵' : datum.value == 1e-4 ? '10⁻⁴' : datum.value == 0.001 ? '10⁻³' : datum.value == 0.01 ? '10⁻²' : datum.value == 0.1 ? '10⁻¹' : ''",
"labelOverlap": false, "labelFlush": false, "labelPadding": 7, "title": "Time [s]", "titlePadding": 8}},
"y": {"field": "v", "type": "quantitative", "scale": {"domain": [-5, 5], "nice": false},
"axis": {"values": [-5, 0, 5], "title": ["Weighted", "residuals"], "titleX": -49, "titleY": 6, "titleLineHeight": 22}},
"color": {"field": "s", "type": "nominal", "scale": {"domain": ["G", "R", "X", "K"], "range": ["#2a8a34", "#e8352b", "#a3a3a3", "#151515"]}, "legend": null}
}
}
]
},
{
"title": {"text": "B", "anchor": "start", "offset": -15, "dx": -5},
"spacing": 4,
"bounds": "flush",
"resolve": {"scale": {"color": "independent"}},
"vconcat": [
{
"width": 290, "height": 248,
"data": {"name": "corrB"},
"resolve": {"axis": {"x": "independent", "y": "independent"}},
"layer": [
{
"mark": {"type": "line", "strokeWidth": 4, "clip": true},
"encoding": {
"x": {"field": "t", "type": "quantitative", "scale": {"type": "log", "domain": [7.08e-8, 0.209], "nice": false},
"axis": {"values": [8e-8,9e-8,1e-7,2e-7,3e-7,4e-7,5e-7,6e-7,7e-7,8e-7,9e-7,1e-6,2e-6,3e-6,4e-6,5e-6,6e-6,7e-6,8e-6,9e-6,1e-5,2e-5,3e-5,4e-5,5e-5,6e-5,7e-5,8e-5,9e-5,1e-4,2e-4,3e-4,4e-4,5e-4,6e-4,7e-4,8e-4,9e-4,0.001,0.002,0.003,0.004,0.005,0.006,0.007,0.008,0.009,0.01,0.02,0.03,0.04,0.05,0.06,0.07,0.08,0.09,0.1,0.2], "labels": false, "title": null}},
"y": {"field": "v", "type": "quantitative", "scale": {"domain": [-0.2, 1.2], "nice": false, "zero": false},
"axis": {"values": [0, 0.4, 0.8, 1.2], "labelExpr": "datum.value == 0 ? '0' : format(datum.value, '.1f')", "title": "Correlation", "titleX": -35, "titleY": 110}},
"color": {"field": "s", "type": "nominal",
"scale": {"domain": ["GGxGG", "RRxRR", "GGxRR"], "range": ["#2a8a34", "#e8352b", "#151515"]},
"legend": {"orient": "none", "legendX": 202, "legendY": 9, "title": null, "symbolType": "circle", "symbolSize": 12, "symbolStrokeWidth": 0, "labelFontSize": 19, "labelOffset": -5, "rowPadding": 0, "padding": 0,
"encode": {"symbols": {"update": {"fill": {"signal": "datum.value == 'GGxGG' ? '#2a8a34' : datum.value == 'RRxRR' ? '#e8352b' : '#151515'"}, "strokeWidth": {"value": 0}}}}}}
}
},
{
"transform": [{"filter": "datum.s == 'RRxRR' && isValid(datum.e)"}],
"mark": {"type": "errorbar", "ticks": false, "thickness": 1.2, "color": "#e8352b"},
"encoding": {
"x": {"field": "t", "type": "quantitative",
"axis": {"orient": "top", "values": [8e-8,9e-8,1e-7,2e-7,3e-7,4e-7,5e-7,6e-7,7e-7,8e-7,9e-7,1e-6,2e-6,3e-6,4e-6,5e-6,6e-6,7e-6,8e-6,9e-6,1e-5,2e-5,3e-5,4e-5,5e-5,6e-5,7e-5,8e-5,9e-5,1e-4,2e-4,3e-4,4e-4,5e-4,6e-4,7e-4,8e-4,9e-4,0.001,0.002,0.003,0.004,0.005,0.006,0.007,0.008,0.009,0.01,0.02,0.03,0.04,0.05,0.06,0.07,0.08,0.09,0.1,0.2], "labels": false, "title": null}},
"y": {"field": "v", "type": "quantitative", "axis": null},
"yError": {"field": "e"}
}
},
{
"transform": [{"filter": "datum.s == 'GGxGG' && isValid(datum.e)"}],
"mark": {"type": "errorbar", "ticks": false, "thickness": 1.2, "color": "#2a8a34"},
"encoding": {
"x": {"field": "t", "type": "quantitative", "axis": null},
"y": {"field": "v", "type": "quantitative", "axis": null},
"yError": {"field": "e"}
}
}
]
},
{
"width": 290, "height": 78,
"data": {"name": "resB"},
"mark": {"type": "line", "strokeWidth": 3.5, "clip": true},
"encoding": {
"x": {"field": "t", "type": "quantitative", "scale": {"type": "log", "domain": [7.08e-8, 0.209], "nice": false},
"axis": {"values": [8e-8,9e-8,1e-7,2e-7,3e-7,4e-7,5e-7,6e-7,7e-7,8e-7,9e-7,1e-6,2e-6,3e-6,4e-6,5e-6,6e-6,7e-6,8e-6,9e-6,1e-5,2e-5,3e-5,4e-5,5e-5,6e-5,7e-5,8e-5,9e-5,1e-4,2e-4,3e-4,4e-4,5e-4,6e-4,7e-4,8e-4,9e-4,0.001,0.002,0.003,0.004,0.005,0.006,0.007,0.008,0.009,0.01,0.02,0.03,0.04,0.05,0.06,0.07,0.08,0.09,0.1,0.2],
"labelExpr": "datum.value == 1e-6 ? '10⁻⁶' : datum.value == 1e-5 ? '10⁻⁵' : datum.value == 1e-4 ? '10⁻⁴' : datum.value == 0.001 ? '10⁻³' : datum.value == 0.01 ? '10⁻²' : datum.value == 0.1 ? '10⁻¹' : ''",
"labelOverlap": false, "labelFlush": false, "labelPadding": 7, "title": "Time [s]", "titlePadding": 8, "titleX": 155}},
"y": {"field": "v", "type": "quantitative", "scale": {"domain": [-5, 5], "nice": false},
"axis": {"values": [-5, 0, 5], "title": ["Weighted", "residuals"], "titleX": -49, "titleY": 6, "titleLineHeight": 22}},
"color": {"field": "s", "type": "nominal", "scale": {"domain": ["G", "R", "K"], "range": ["#2a8a34", "#e8352b", "#151515"]}, "legend": null}
}
}
]
}
],
"config": {
"font": "Open Sans",
"view": {"stroke": "#2b2b2b", "strokeWidth": 1.2},
"axis": {"grid": false, "domain": false, "ticks": true, "tickSize": -4, "tickColor": "#2b2b2b", "tickWidth": 1, "labelFont": "Open Sans", "labelFontSize": 16, "labelColor": "#1e1e1e", "labelPadding": 9, "titleFont": "Open Sans", "titleFontSize": 20, "titleFontWeight": "normal", "titleColor": "#1e1e1e"},
"legend": {"labelFont": "Open Sans", "labelFontSize": 19, "labelColor": "#1e1e1e"},
"title": {"font": "Open Sans", "fontSize": 24, "fontWeight": "bold", "color": "#111111"}
}
}
